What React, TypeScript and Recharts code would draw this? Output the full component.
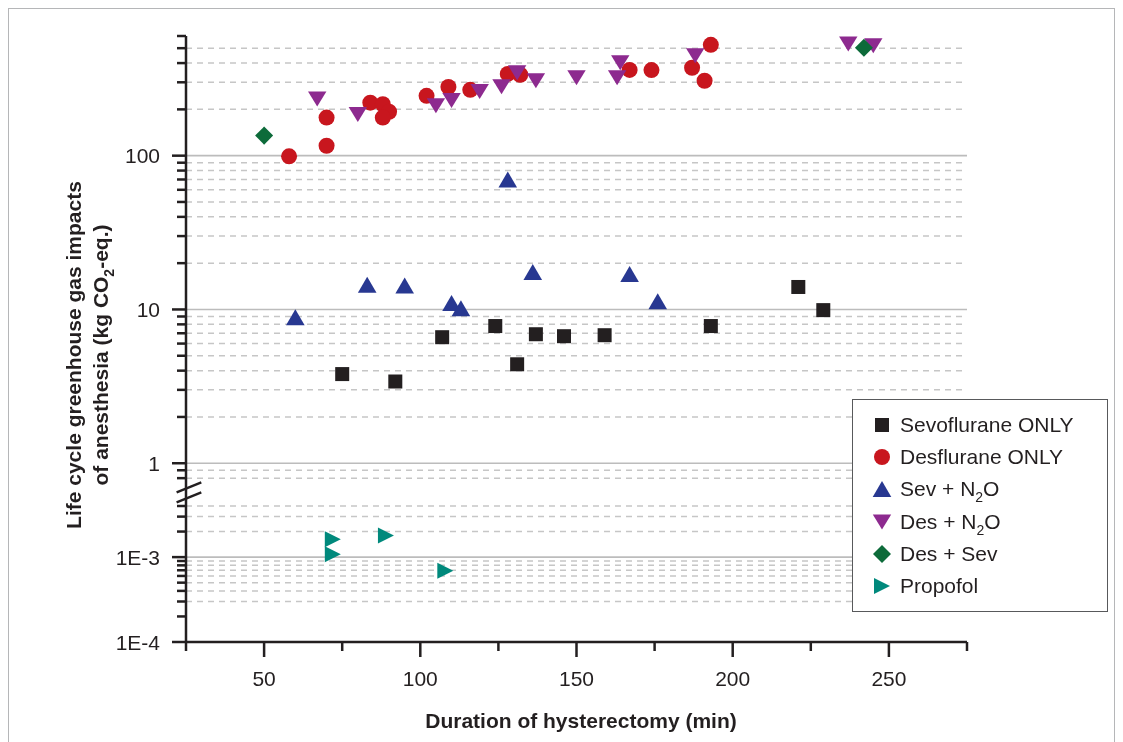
import { ScatterChart, Scatter, XAxis, YAxis, CartesianGrid, ReferenceLine, Legend } from "recharts"

// [duration (min), impact (kg CO2-eq.)]
const sevoOnly = [
  [75, 3.8], [92, 3.4], [107, 6.6], [124, 7.8], [131, 4.4], [137, 6.9],
  [146, 6.7], [159, 6.8], [193, 7.8], [221, 14], [229, 9.9],
]
const desOnly = [
  [58, 99], [70, 177], [70, 116], [84, 221], [88, 216], [90, 193], [88, 177],
  [102, 245], [109, 280], [116, 268], [128, 340], [132, 336], [167, 361],
  [174, 360], [187, 373], [191, 307], [193, 526],
]
const sevN2O = [
  [60, 8.9], [83, 14.5], [95, 14.3], [110, 11], [113, 10.2], [128, 70],
  [136, 17.5], [167, 17], [176, 11.3],
]
const desN2O = [
  [67, 234], [80, 185], [105, 211], [110, 228], [119, 261], [126, 281],
  [131, 346], [137, 307], [150, 321], [163, 321], [164, 402], [188, 446],
  [237, 533], [245, 518],
]
const desSev = [[50, 135], [242, 503]]
const propofol = [[72, 0.00162], [72, 0.00108], [89, 0.0018], [108, 0.00069]]

const durationTicks = [25, 50, 75, 100, 125, 150, 175, 200, 225, 250, 275]
const durationLabels = [50, 100, 150, 200, 250]

const upperTicks = [0.8, 0.9, 1, 2, 3, 4, 5, 6, 7, 8, 9, 10, 20, 30, 40, 50, 60, 70, 80, 90, 100, 200, 300, 400, 500, 600]
const lowerTicks = [1e-4, 2e-4, 3e-4, 4e-4, 5e-4, 6e-4, 7e-4, 8e-4, 9e-4, 1e-3, 2e-3, 3e-3, 4e-3]
const labelValues = [1e-4, 1e-3, 1, 10, 100]
const labelTexts = ["1E-4", "1E-3", "1", "10", "100"]
const solidGrid = [1e-3, 1, 10, 100]
const noGrid = [1e-4, 2e-4, 600]

const FONT = '"Liberation Sans", Arial, Helvetica, sans-serif'
const INK = "#231f20"

// broken log axis: upper part 1 unit per decade, lower part squeezed below the break
const T_1E3 = -0.6104
const LOWER_SCALE = 0.552
const toAxis = (v: number) => (v >= 0.5 ? Math.log10(v) : T_1E3 + (Math.log10(v) + 3) * LOWER_SCALE)
const BREAK_T = -0.19

const allTicks = [...lowerTicks, ...upperTicks]
const yTicks = allTicks.map(toAxis)
const yDomain = [toAxis(1e-4), toAxis(600)]
const solidT = solidGrid.map(toAxis)
const dashedT = allTicks.filter((v) => !solidGrid.includes(v) && !noGrid.includes(v)).map(toAxis)

const toPoints = (rows: number[][]) => rows.map(([min, kg]) => ({ min, kg, t: toAxis(kg) }))

const Marker = ({ kind, cx, cy, color }: { kind: string; cx: number; cy: number; color: string }) => {
  if (kind === "square") return <rect x={cx - 7} y={cy - 7} width={14} height={14} fill={color} />
  if (kind === "circle") return <circle cx={cx} cy={cy} r={8} fill={color} />
  if (kind === "up") return <polygon points={`${cx},${cy - 8} ${cx + 9.3},${cy + 8} ${cx - 9.3},${cy + 8}`} fill={color} />
  if (kind === "down") return <polygon points={`${cx - 9.2},${cy - 7.5} ${cx + 9.2},${cy - 7.5} ${cx},${cy + 7.5}`} fill={color} />
  if (kind === "diamond") return <polygon points={`${cx},${cy - 9} ${cx + 9},${cy} ${cx},${cy + 9} ${cx - 9},${cy}`} fill={color} />
  return <polygon points={`${cx - 8},${cy - 8} ${cx + 8},${cy} ${cx - 8},${cy + 8}`} fill={color} />
}

const series = [
  { name: "Sevoflurane ONLY", rows: sevoOnly, color: "#231f20", kind: "square" },
  { name: "Desflurane ONLY", rows: desOnly, color: "#c8161e", kind: "circle" },
  { name: "Sev + N2O", rows: sevN2O, color: "#283891", kind: "up" },
  { name: "Des + N2O", rows: desN2O, color: "#8d2a8f", kind: "down" },
  { name: "Des + Sev", rows: desSev, color: "#0d6b3a", kind: "diamond" },
  { name: "Propofol", rows: propofol, color: "#00897c", kind: "right" },
]

const withSub = (name: string) => {
  if (!name.includes("N2O")) return name
  const [head] = name.split("N2O")
  return (
    <>
      {head}N<span style={{ fontSize: 14, position: "relative", top: 6 }}>2</span>O
    </>
  )
}

const XTick = (props: any) => {
  const { x, y, payload } = props
  const major = durationLabels.includes(payload.value)
  return (
    <g>
      <line x1={x} x2={x} y1={y} y2={y + (major ? 15 : 9)} stroke={INK} strokeWidth={2.5} />
      {major && (
        <text x={x} y={y + 44} textAnchor="middle" fontFamily={FONT} fontSize={21} fill={INK}>
          {payload.value}
        </text>
      )}
    </g>
  )
}

const YTick = (props: any) => {
  const { x, y, payload } = props
  const idx = labelValues.findIndex((v) => Math.abs(toAxis(v) - payload.value) < 1e-6)
  const major = idx >= 0
  return (
    <g>
      <line x1={x - (major ? 14 : 9)} x2={x} y1={y} y2={y} stroke={INK} strokeWidth={2.5} />
      {major && (
        <text x={x - 26} y={y + 7.5} textAnchor="end" fontFamily={FONT} fontSize={21} fill={INK}>
          {labelTexts[idx]}
        </text>
      )}
    </g>
  )
}

const LegendBox = () => (
  <div
    style={{
      width: 256,
      height: 213,
      boxSizing: "border-box",
      border: "1px solid #58595b",
      background: "#fff",
      fontFamily: FONT,
      fontSize: 21,
      color: INK,
      position: "relative",
    }}
  >
    {series.map((s, i) => (
      <div key={s.name} style={{ position: "absolute", left: 0, top: 25 + i * 32.2 - 16, height: 32, width: "100%" }}>
        <svg width={40} height={32} style={{ position: "absolute", left: 9, top: 0 }}>
          <Marker kind={s.kind} cx={20} cy={16} color={s.color} />
        </svg>
        <span style={{ position: "absolute", left: 47, top: 4, lineHeight: "24px", whiteSpace: "nowrap" }}>
          {withSub(s.name)}
        </span>
      </div>
    ))}
  </div>
)

export default function App() {
  return (
    <div style={{ position: "relative", width: 1107, height: 726 }}>
      <div
        style={{
          position: "fixed",
          left: 8,
          top: 8,
          width: 1107,
          height: 800,
          boxSizing: "border-box",
          border: "1px solid #b5b6b8",
          pointerEvents: "none",
        }}
      />
      <ScatterChart width={1107} height={726} margin={{ top: 28, right: 148, bottom: 0, left: 0 }}>
        <CartesianGrid vertical={false} horizontalValues={solidT} stroke="#bcbcbc" strokeWidth={1.6} />
        <CartesianGrid vertical={false} horizontalValues={dashedT} stroke="#c6c6c6" strokeWidth={1.5} strokeDasharray="6 5" />
        <XAxis
          type="number"
          dataKey="min"
          domain={[25, 275]}
          ticks={durationTicks}
          interval={0}
          height={92}
          tickSize={0}
          tickMargin={0}
          tickLine={false}
          axisLine={{ stroke: INK, strokeWidth: 2.5 }}
          tick={XTick}
          label={{
            content: () => (
              <text x={573} y={720} textAnchor="middle" fontFamily={FONT} fontSize={21} fontWeight="bold" fill={INK}>
                Duration of hysterectomy (min)
              </text>
            ),
          }}
        />
        <YAxis
          type="number"
          dataKey="t"
          domain={yDomain}
          ticks={yTicks}
          interval={0}
          width={178}
          tickSize={0}
          tickMargin={0}
          tickLine={false}
          axisLine={{ stroke: INK, strokeWidth: 2.5 }}
          tick={YTick}
          allowDataOverflow
          label={{
            content: () => (
              <g transform="translate(0,347) rotate(-90)" fontFamily={FONT} fontSize={21} fontWeight="bold" fill={INK}>
                <text x={0} y={73} textAnchor="middle">
                  Life cycle greenhouse gas impacts
                </text>
                <text x={0} y={100} textAnchor="middle">
                  of anesthesia (kg CO
                  <tspan fontSize={14} dy={6}>
                    2
                  </tspan>
                  <tspan dy={-6}>-eq.)</tspan>
                </text>
              </g>
            ),
          }}
        />
        <ReferenceLine
          segment={[{ x: 22, y: BREAK_T }, { x: 29.9, y: BREAK_T + 0.065 }]}
          stroke={INK}
          strokeWidth={2.5}
          ifOverflow="visible"
        />
        <ReferenceLine
          segment={[{ x: 22, y: BREAK_T - 0.065 }, { x: 29.9, y: BREAK_T }]}
          stroke={INK}
          strokeWidth={2.5}
          ifOverflow="visible"
        />
        {series.map((s) => (
          <Scatter
            key={s.name}
            name={s.name}
            data={toPoints(s.rows)}
            fill={s.color}
            isAnimationActive={false}
            shape={(p: any) => <Marker kind={s.kind} cx={p.cx} cy={p.cy} color={s.color} />}
          />
        ))}
        <Legend
          layout="vertical"
          align="center"
          verticalAlign="middle"
          wrapperStyle={{ left: 844, top: 391, width: 256, height: 213 }}
          content={() => <LegendBox />}
        />
      </ScatterChart>
    </div>
  )
}
